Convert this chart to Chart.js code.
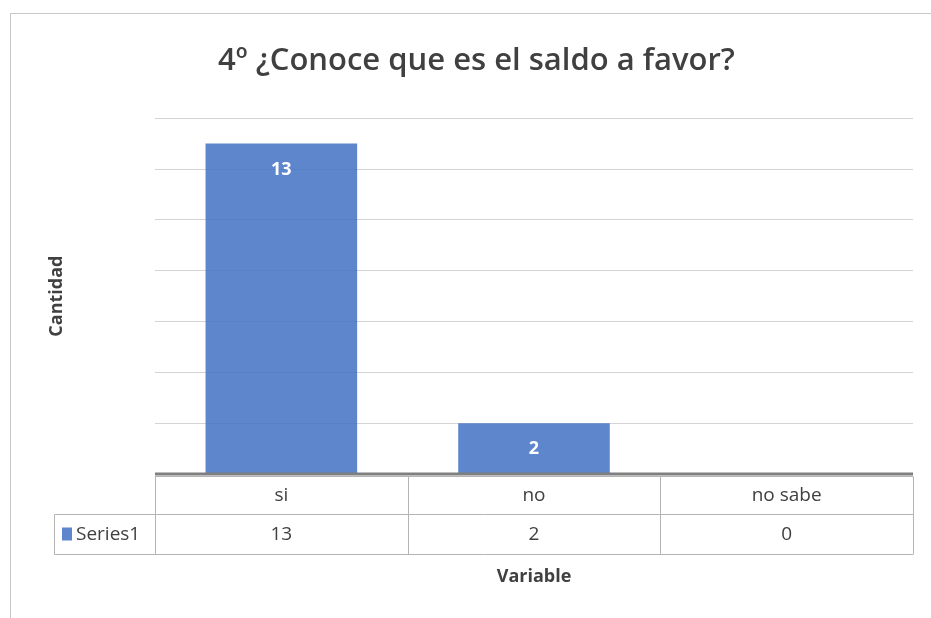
<!DOCTYPE html>
<html>
<head>
<meta charset="utf-8">
<script src="https://cdn.jsdelivr.net/npm/chart.js@4"></script>
<style>
  body { margin: 0; background: #fff; }
  #wrap { width: 931px; height: 618px; }
</style>
</head>
<body>
<div id="wrap"><canvas id="chart"></canvas></div>
<script>
// chart data
const chartTitle = '4º ¿Conoce que es el saldo a favor?';
const categories = ['si', 'no', 'no sabe'];
const seriesName = 'Series1';
const seriesValues = [13, 2, 0];
const yMax = 14;
const yStep = 2;

const barColor = 'rgba(68, 114, 196, 0.86)';
const textColor = '#404040';
const fontName = '"Open Sans", sans-serif';

// frame round the whole chart
const framePlugin = {
  id: 'frame',
  beforeDraw(chart) {
    const ctx = chart.ctx;
    ctx.save();
    ctx.fillStyle = '#fff';
    ctx.fillRect(0, 0, chart.width, chart.height);
    ctx.strokeStyle = '#c8c8c8';
    ctx.lineWidth = 1;
    ctx.strokeRect(10.5, 13.5, chart.width + 20, chart.height + 20);
    ctx.restore();
  }
};

// value labels inside the bars
const barLabels = {
  id: 'barLabels',
  afterDatasetsDraw(chart) {
    const ctx = chart.ctx;
    const meta = chart.getDatasetMeta(0);
    ctx.save();
    ctx.fillStyle = '#fff';
    ctx.font = 'bold 18px ' + fontName;
    ctx.textAlign = 'center';
    ctx.textBaseline = 'middle';
    meta.data.forEach((bar, i) => {
      if (seriesValues[i] > 0) {
        ctx.fillText(String(seriesValues[i]), bar.x, bar.y + 26);
      }
    });
    ctx.restore();
  }
};

// excel style data table under the plot
const dataTable = {
  id: 'dataTable',
  afterDraw(chart) {
    const ctx = chart.ctx;
    const x = chart.scales.x;
    const y = chart.scales.y;
    const base = Math.round(y.getPixelForValue(0));
    const catW = (x.right - x.left) / categories.length;
    const row1Top = base + 2.5;
    const row2Top = base + 40.5;
    const row2Bot = base + 80.5;
    const legendLeft = 54.5;

    ctx.save();
    // axis line
    ctx.strokeStyle = '#7f7f7f';
    ctx.lineWidth = 3;
    ctx.beginPath();
    ctx.moveTo(x.left, base);
    ctx.lineTo(x.right, base);
    ctx.stroke();

    // cell borders
    ctx.strokeStyle = '#b4b4b4';
    ctx.lineWidth = 1;
    ctx.beginPath();
    ctx.moveTo(x.left, row1Top);
    ctx.lineTo(x.right, row1Top);
    ctx.moveTo(legendLeft, row2Top);
    ctx.lineTo(x.right, row2Top);
    ctx.moveTo(legendLeft, row2Bot);
    ctx.lineTo(x.right, row2Bot);
    ctx.moveTo(legendLeft, row2Top);
    ctx.lineTo(legendLeft, row2Bot);
    for (let i = 0; i <= categories.length; i++) {
      const cx = Math.round(x.left + i * catW) + 0.5;
      ctx.moveTo(cx, row1Top);
      ctx.lineTo(cx, row2Bot);
    }
    ctx.stroke();

    // texts
    ctx.fillStyle = textColor;
    ctx.font = '19px ' + fontName;
    ctx.textAlign = 'center';
    ctx.textBaseline = 'middle';
    categories.forEach((cat, i) => {
      const cx = x.getPixelForValue(i);
      ctx.fillText(cat, cx, (row1Top + row2Top) / 2);
      ctx.fillText(String(seriesValues[i]), cx, (row2Top + row2Bot) / 2);
    });

    // legend key
    ctx.fillStyle = barColor;
    ctx.fillRect(62, row2Top + 13, 10, 13);
    ctx.fillStyle = textColor;
    ctx.textAlign = 'left';
    ctx.fillText(seriesName, 76, (row2Top + row2Bot) / 2);
    ctx.restore();
  }
};

new Chart(document.getElementById('chart'), {
  type: 'bar',
  data: {
    labels: categories,
    datasets: [
      {
        label: seriesName,
        data: seriesValues,
        backgroundColor: barColor,
        barPercentage: 0.6,
        categoryPercentage: 1.0,
      },
    ],
  },
  options: {
    responsive: true,
    maintainAspectRatio: false,
    animation: false,
    layout: {
      padding: { left: 40, right: 18, top: 0, bottom: 0 }
    },
    plugins: {
      legend: { display: false },
      tooltip: { enabled: false },
      title: {
        display: true,
        text: chartTitle,
        color: textColor,
        font: { family: fontName, size: 31, weight: '600' },
        padding: { top: 43, bottom: 38 }
      }
    },
    scales: {
      x: {
        grid: { display: false },
        border: { display: false },
        ticks: { display: false },
        title: {
          display: true,
          text: 'Variable',
          color: textColor,
          font: { family: fontName, size: 18, weight: 'bold' },
          padding: { top: 0, bottom: 30 }
        },
        afterFit(scale) { scale.height = 144; }
      },
      y: {
        min: 0,
        max: yMax,
        grid: { color: '#d4d4d4', drawTicks: false },
        border: { display: false },
        ticks: { display: false, stepSize: yStep },
        title: {
          display: true,
          text: 'Cantidad',
          color: textColor,
          font: { family: fontName, size: 18, weight: 'bold' },
          padding: { top: 6, bottom: 0 }
        },
        afterFit(scale) { scale.width = 115; }
      }
    }
  },
  plugins: [framePlugin, barLabels, dataTable]
});
</script>
</body>
</html>
